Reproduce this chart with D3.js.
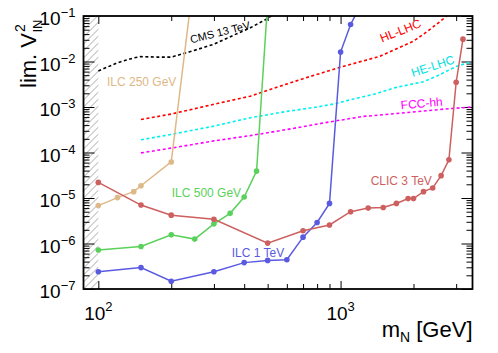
<!DOCTYPE html>
<html>
<head>
<meta charset="utf-8">
<script src="https://d3js.org/d3.v7.min.js"></script>
<style>
  body { margin: 0; background: #fff; }
  svg { font-family: "Liberation Sans", Arial, Helvetica, sans-serif; }
</style>
</head>
<body>
<div id="chart"></div>
<script>
// DATA (mass in GeV, limit on V^2)
const ilc250Mass = [100, 120, 140, 150, 200, 250];
const ilc250Lim = [6.8e-6, 1.02e-5, 1.38e-5, 1.86e-5, 6.2e-5, 1.0];

const ilc500Mass = [100, 150, 200, 250, 300, 350, 400, 450, 500];
const ilc500Lim = [7.2e-7, 8.6e-7, 1.55e-6, 1.25e-6, 2.7e-6, 4.6e-6, 1.05e-5, 3.9e-5, 0.2];

const ilc1Mass = [100, 150, 200, 300, 400, 500, 600, 700, 800, 900, 1000, 1100, 1200];
const ilc1Lim = [2.4e-7, 2.95e-7, 1.48e-7, 2.4e-7, 3.8e-7, 4.25e-7, 4.4e-7, 1.38e-6, 2.9e-6, 7.6e-6, 1.61e-2, 6.5e-2, 0.16];

const clicMass = [100, 150, 200, 300, 500, 700, 900, 1100, 1300, 1500, 1700, 1900, 2000, 2200, 2400, 2600, 2800, 3000, 3200];
const clicLim = [2.2e-5, 7.0e-6, 4.2e-6, 3.4e-6, 1.02e-6, 1.9e-6, 2.55e-6, 5.0e-6, 6.0e-6, 6.2e-6, 7.6e-6, 9.7e-6, 9.7e-6, 1.38e-5, 1.66e-5, 3.1e-5, 6.9e-5, 3.5e-3, 3.1e-2];

const cmsMass = [100, 120, 140, 150, 175, 200, 240, 300, 370, 424, 500, 530];
const cmsLim = [6.2e-3, 9.4e-3, 1.2e-2, 1.28e-2, 1.25e-2, 1.25e-2, 1.65e-2, 2.4e-2, 4.0e-2, 5.5e-2, 0.088, 0.11];

const hlMass = [150, 200, 300, 424, 600, 700, 1000, 1450, 2000, 2200, 2340, 2570, 2800];
const hlLim = [5.3e-4, 7.0e-4, 1.15e-3, 1.73e-3, 3.2e-3, 4.2e-3, 7.5e-3, 1.3e-2, 2.8e-2, 4.0e-2, 5.1e-2, 7.5e-2, 0.11];

const heMass = [150, 200, 300, 424, 600, 800, 966, 1100, 1370, 1700, 2200, 2500, 3020, 3504];
const heLim = [1.9e-4, 2.5e-4, 3.8e-4, 5.8e-4, 8.0e-4, 1.0e-3, 1.2e-3, 1.45e-3, 1.9e-3, 2.7e-3, 3.6e-3, 4.8e-3, 7.9e-3, 1.0e-2];

const fccMass = [150, 200, 300, 424, 600, 900, 1240, 1765, 2670, 3504];
const fccLim = [9.8e-5, 1.25e-4, 1.8e-4, 2.35e-4, 3.2e-4, 4.7e-4, 6.2e-4, 7.3e-4, 9.0e-4, 1.0e-3];

// Tick values
const xMajor = [100, 1000];
const xMinor = [200, 300, 400, 500, 600, 700, 800, 900, 2000, 3000];
const yMajor = [1e-7, 1e-6, 1e-5, 1e-4, 1e-3, 1e-2, 1e-1];
const yMinor = [];
yMajor.slice(0, -1).forEach(d => { for (let k = 2; k < 10; k++) yMinor.push(d * k); });

// CHART
const svgWidth = 498, svgHeight = 353;
const margin = {top: 16, right: 25.5, bottom: 64, left: 83.5};
const width = svgWidth - margin.left - margin.right;
const height = svgHeight - margin.top - margin.bottom;

const svg = d3.select("#chart")
  .append("svg")
  .attr("width", svgWidth)
  .attr("height", svgHeight);

const g = svg.append("g")
  .attr("transform", `translate(${margin.left}, ${margin.top})`);

const x = d3.scaleLog().domain([86.86, 3504]).range([0, width]);
const y = d3.scaleLog().domain([1e-7, 1e-1]).range([height, 0]);

const defs = svg.append("defs");
defs.append("clipPath").attr("id", "plot-clip")
  .append("rect").attr("width", width).attr("height", height);

// Hatch for excluded region below 100 GeV
const hatch = defs.append("pattern")
  .attr("id", "hatch")
  .attr("patternUnits", "userSpaceOnUse")
  .attr("width", 7).attr("height", 7);
hatch.append("path")
  .attr("d", "M-1,1 L1,-1 M0,7 L7,0 M6,8 L8,6")
  .attr("stroke", "#a0a0a0")
  .attr("stroke-width", 0.9);

g.append("rect")
  .attr("x", 0)
  .attr("y", 0)
  .attr("width", x(100))
  .attr("height", height)
  .attr("fill", "url(#hatch)");

// Ticks (inward, on all four sides)
const tickAxis = function(axisFn, values, size, transform) {
  const ax = g.append("g")
    .attr("transform", transform)
    .call(axisFn.tickValues(values).tickSize(-size).tickFormat(""));
  ax.select(".domain").remove();
  ax.selectAll("line").attr("stroke", "#000").attr("stroke-width", 1);
};
tickAxis(d3.axisBottom(x), xMajor, 8, `translate(0, ${height})`);
tickAxis(d3.axisBottom(x), xMinor, 5, `translate(0, ${height})`);
tickAxis(d3.axisTop(x), xMajor, 8, "translate(0, 0)");
tickAxis(d3.axisTop(x), xMinor, 5, "translate(0, 0)");
tickAxis(d3.axisLeft(y), yMajor, 11, "translate(0, 0)");
tickAxis(d3.axisLeft(y), yMinor, 6, "translate(0, 0)");
tickAxis(d3.axisRight(y), yMajor, 11, `translate(${width}, 0)`);
tickAxis(d3.axisRight(y), yMinor, 6, `translate(${width}, 0)`);

// Tick labels as 10^n
yMajor.forEach(v => {
  const t = g.append("text")
    .attr("x", -8)
    .attr("y", y(v) + 9)
    .attr("text-anchor", "end")
    .attr("font-size", 19);
  t.append("tspan").text("10");
  t.append("tspan").attr("dy", -8).attr("font-size", 13).text("\u2212" + Math.round(-Math.log10(v)));
});

xMajor.forEach(v => {
  const t = g.append("text")
    .attr("x", x(v))
    .attr("y", height + 31)
    .attr("text-anchor", "middle")
    .attr("font-size", 19);
  t.append("tspan").text("10");
  t.append("tspan").attr("dy", -9).attr("font-size", 13).text(Math.round(Math.log10(v)));
});

// Curves
const line = d3.line().x(d => x(d[0])).y(d => y(d[1]));
const plot = g.append("g").attr("clip-path", "url(#plot-clip)");

const dashed = [
  {mass: cmsMass, lim: cmsLim, color: "#000000"},
  {mass: hlMass, lim: hlLim, color: "#ff0000"},
  {mass: heMass, lim: heLim, color: "#00f0f0"},
  {mass: fccMass, lim: fccLim, color: "#ff00ff"}
];
dashed.forEach(c => {
  plot.append("path")
    .datum(d3.zip(c.mass, c.lim))
    .attr("d", line)
    .attr("fill", "none")
    .attr("stroke", c.color)
    .attr("stroke-width", 1.6)
    .attr("stroke-dasharray", "3,2.5");
});

const solid = [
  {mass: ilc250Mass, lim: ilc250Lim, color: "#deb887"},
  {mass: ilc500Mass, lim: ilc500Lim, color: "#5ad15a"},
  {mass: ilc1Mass, lim: ilc1Lim, color: "#5a5ae1"},
  {mass: clicMass, lim: clicLim, color: "#cd5f5f"}
];
solid.forEach(c => {
  const pts = d3.zip(c.mass, c.lim);
  plot.append("path")
    .datum(pts)
    .attr("d", line)
    .attr("fill", "none")
    .attr("stroke", c.color)
    .attr("stroke-width", 1.5);
  plot.selectAll(null)
    .data(pts)
    .enter()
    .append("circle")
    .attr("cx", d => x(d[0]))
    .attr("cy", d => y(d[1]))
    .attr("r", 2.8)
    .attr("fill", c.color);
});

// Frame
g.append("rect")
  .attr("width", width)
  .attr("height", height)
  .attr("fill", "none")
  .attr("stroke", "#000")
  .attr("stroke-width", 1.8);

// Curve labels
const label = function(text, cx, cy, angle, color, size, anchor) {
  g.append("text")
    .attr("transform", `translate(${cx - margin.left}, ${cy - margin.top}) rotate(${angle})`)
    .attr("text-anchor", anchor)
    .attr("font-size", size)
    .attr("fill", color)
    .text(text);
};
label("ILC 250 GeV", 107, 86, 0, "#deb887", 12, "start");
label("ILC 500 GeV", 171.7, 196.5, 0, "#5ad15a", 12, "start");
label("ILC 1 TeV", 231.7, 257, 0, "#5a5ae1", 12, "start");
label("CLIC 3 TeV", 370.7, 185, 0, "#cd5f5f", 12, "start");
label("CMS 13 TeV", 221, 36, -14, "#000000", 11, "middle");
label("HL-LHC", 402, 34.5, -22, "#ff0000", 12, "middle");
label("HE-LHC", 434, 70, -18, "#00e0e0", 12, "middle");
label("FCC-hh", 422, 107.5, -5, "#ff00ff", 12, "middle");

// Axis titles
const xTitle = g.append("text")
  .attr("x", width)
  .attr("y", 321)
  .attr("text-anchor", "end")
  .attr("font-size", 22);
xTitle.append("tspan").text("m");
xTitle.append("tspan").attr("dy", 5).attr("font-size", 14).text("N");
xTitle.append("tspan").attr("dy", -5).text(" [GeV]");

const yTitle = svg.append("g").attr("transform", "translate(36, 0) rotate(-90)");
yTitle.append("text")
  .attr("x", -33)
  .attr("y", 0)
  .attr("text-anchor", "end")
  .attr("font-size", 22)
  .text("lim. V");
yTitle.append("text")
  .attr("x", -32)
  .attr("y", -11)
  .attr("font-size", 14)
  .text("2");
yTitle.append("text")
  .attr("x", -32)
  .attr("y", 6)
  .attr("font-size", 13)
  .text("lN");
</script>
</body>
</html>
